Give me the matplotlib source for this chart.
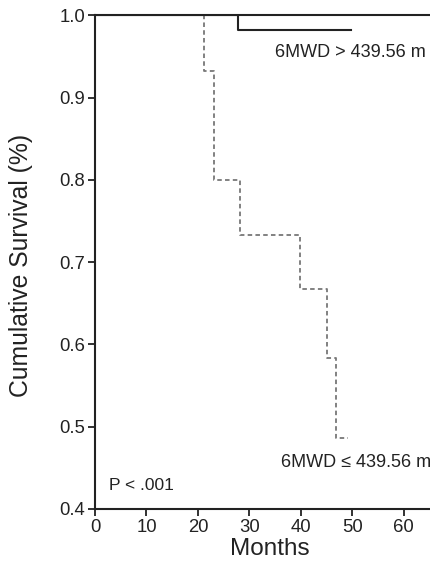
import matplotlib
matplotlib.use("Agg")
import matplotlib.pyplot as plt

# Kaplan-Meier curves
high_t = [0, 27.7, 49.8]
high_s = [1.0, 0.982, 0.982]
low_t = [0, 21.2, 23.1, 28.2, 39.9, 45.0, 46.8, 49.1]
low_s = [1.0, 0.933, 0.800, 0.733, 0.667, 0.583, 0.486, 0.486]

x_ticks = [0, 10, 20, 30, 40, 50, 60]
y_ticks = [0.4, 0.5, 0.6, 0.7, 0.8, 0.9, 1.0]

plt.rcParams['font.family'] = ['Liberation Sans', 'DejaVu Sans']

fig = plt.figure(figsize=(4.31, 5.67), dpi=100)
ax = fig.add_axes([0.2204, 0.1023, 0.7796, 0.8704])

ax.step(high_t, high_s, where='post', color='#222222', lw=1.5)
ax.step(low_t, low_s, where='post', color='#777777', lw=1.3,
        linestyle=(0, (2.5, 1.8)))

ax.set_xlim(0, 65.3)
ax.set_ylim(0.4, 1.0)
ax.set_xticks(x_ticks)
ax.set_yticks(y_ticks)
ax.set_yticklabels([f"{v:.1f}" for v in y_ticks])

for side in ['left', 'bottom', 'top']:
    ax.spines[side].set_linewidth(1.5)
    ax.spines[side].set_color('#222222')
ax.spines['right'].set_visible(False)

ax.tick_params(direction='out', length=5, width=1.3, labelsize=13.3,
               colors='#222222', pad=2)

ax.set_xlabel('Months', fontsize=17.5, color='#222222')
ax.xaxis.set_label_coords(0.52, -0.058)
ax.set_ylabel('Cumulative Survival (%)', fontsize=17.8, color='#222222')
ax.yaxis.set_label_coords(-0.185, 0.494)

ax.text(49.6, 0.955, '6MWD > 439.56 m', fontsize=13, ha='center',
        va='center', color='#222222')
ax.text(50.7, 0.457, '6MWD ≤ 439.56 m', fontsize=13, ha='center',
        va='center', color='#222222')
ax.text(2.7, 0.428, 'P < .001', fontsize=12.5, ha='left', va='center',
        color='#222222')

fig.savefig('out.png', dpi=100)
